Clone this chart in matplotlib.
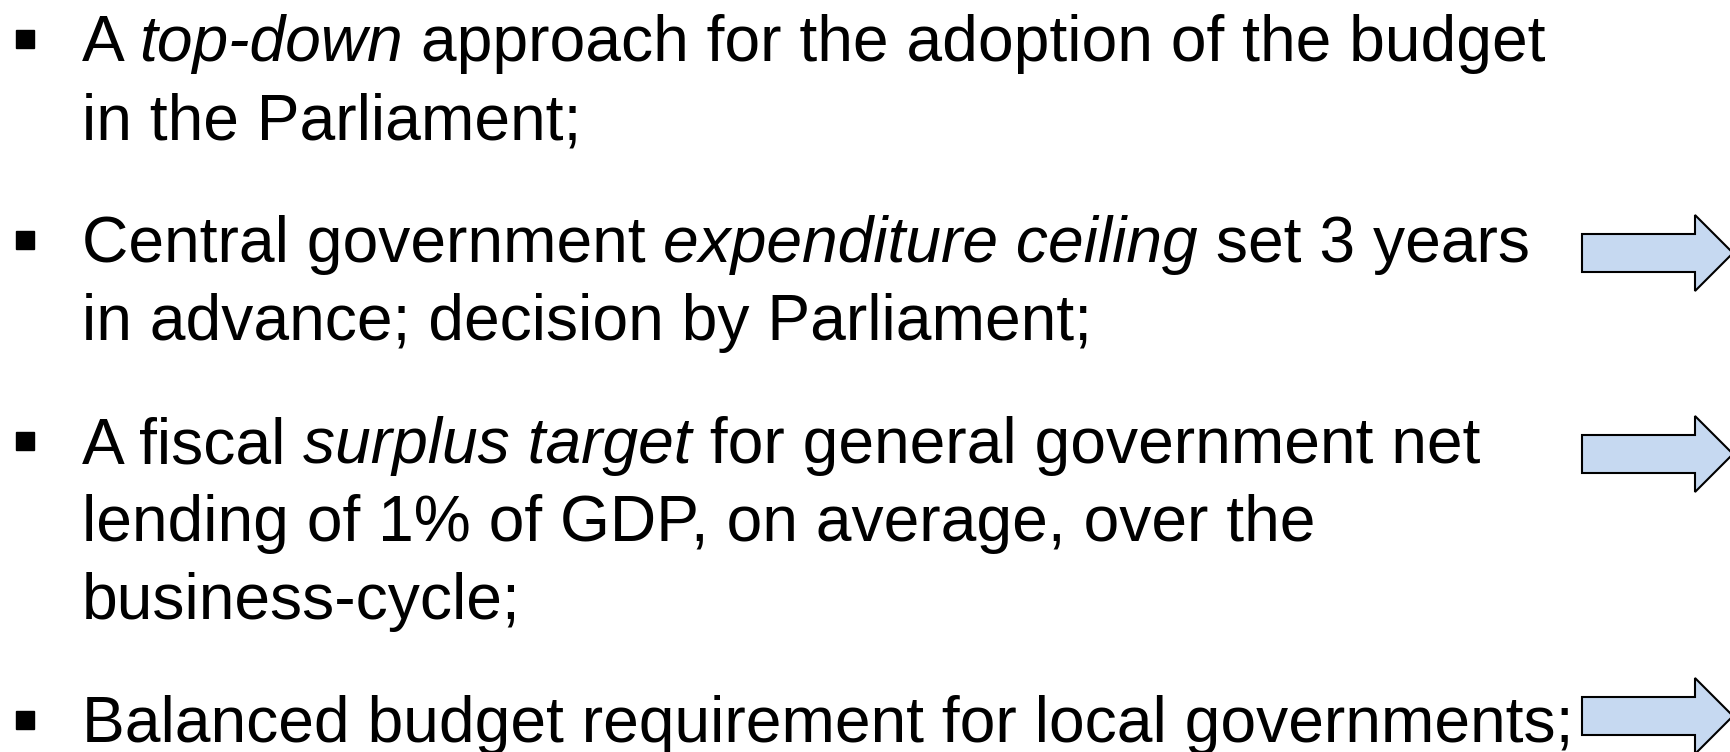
import matplotlib
matplotlib.use("Agg")
import matplotlib.pyplot as plt
from matplotlib.patches import FancyArrow

# slide content: each bullet is a list of lines, each line a list of (text, style)
bullets = [
    [
        [("A ", "normal"), ("top-down", "italic"), (" approach for the adoption of the budget", "normal")],
        [("in the Parliament;", "normal")],
    ],
    [
        [("Central government ", "normal"), ("expenditure ceiling", "italic"), (" set 3 years", "normal")],
        [("in advance; decision by Parliament;", "normal")],
    ],
    [
        [("A fiscal ", "normal"), ("surplus target", "italic"), (" for general government net", "normal")],
        [("lending of 1% of GDP, on average, over the", "normal")],
        [("business-cycle;", "normal")],
    ],
    [
        [("Balanced budget requirement for local governments;", "normal")],
    ],
]
first_baselines = [61, 262, 463, 742]
arrow_rows = [253, 454, 716]

W, H = 1731, 752
FONT = "Liberation Sans"
SIZE = 46.2
LINE_STEP = 78
TEXT_X = 82

fig = plt.figure(figsize=(W / 100, H / 100), dpi=100)
ax = fig.add_axes([0, 0, 1, 1])
ax.set_xlim(0, W)
ax.set_ylim(H, 0)
ax.axis("off")

renderer = fig.canvas.get_renderer()


def text_width(s, style):
    # measure with bars around so spaces are counted
    t1 = ax.text(0, 0, "|" + s + "|", family=FONT, fontsize=SIZE, style=style)
    t2 = ax.text(0, 0, "||", family=FONT, fontsize=SIZE, style=style)
    w = t1.get_window_extent(renderer).width - t2.get_window_extent(renderer).width
    t1.remove()
    t2.remove()
    return w


for lines, y0 in zip(bullets, first_baselines):
    ax.plot(25, y0 - 22, marker="s", markersize=13.5, color="black", linestyle="none")
    for i, line in enumerate(lines):
        y = y0 + i * LINE_STEP
        x = TEXT_X
        for seg, style in line:
            ax.text(x, y, seg, family=FONT, fontsize=SIZE, style=style,
                    va="baseline", ha="left", color="black")
            x += text_width(seg, style)

for yc in arrow_rows:
    ax.add_patch(FancyArrow(1582, yc, 151, 0, width=38, head_width=76, head_length=38,
                            length_includes_head=True, facecolor="#C6D9F1",
                            edgecolor="black", linewidth=1.5))

fig.savefig("out.png", dpi=100)
